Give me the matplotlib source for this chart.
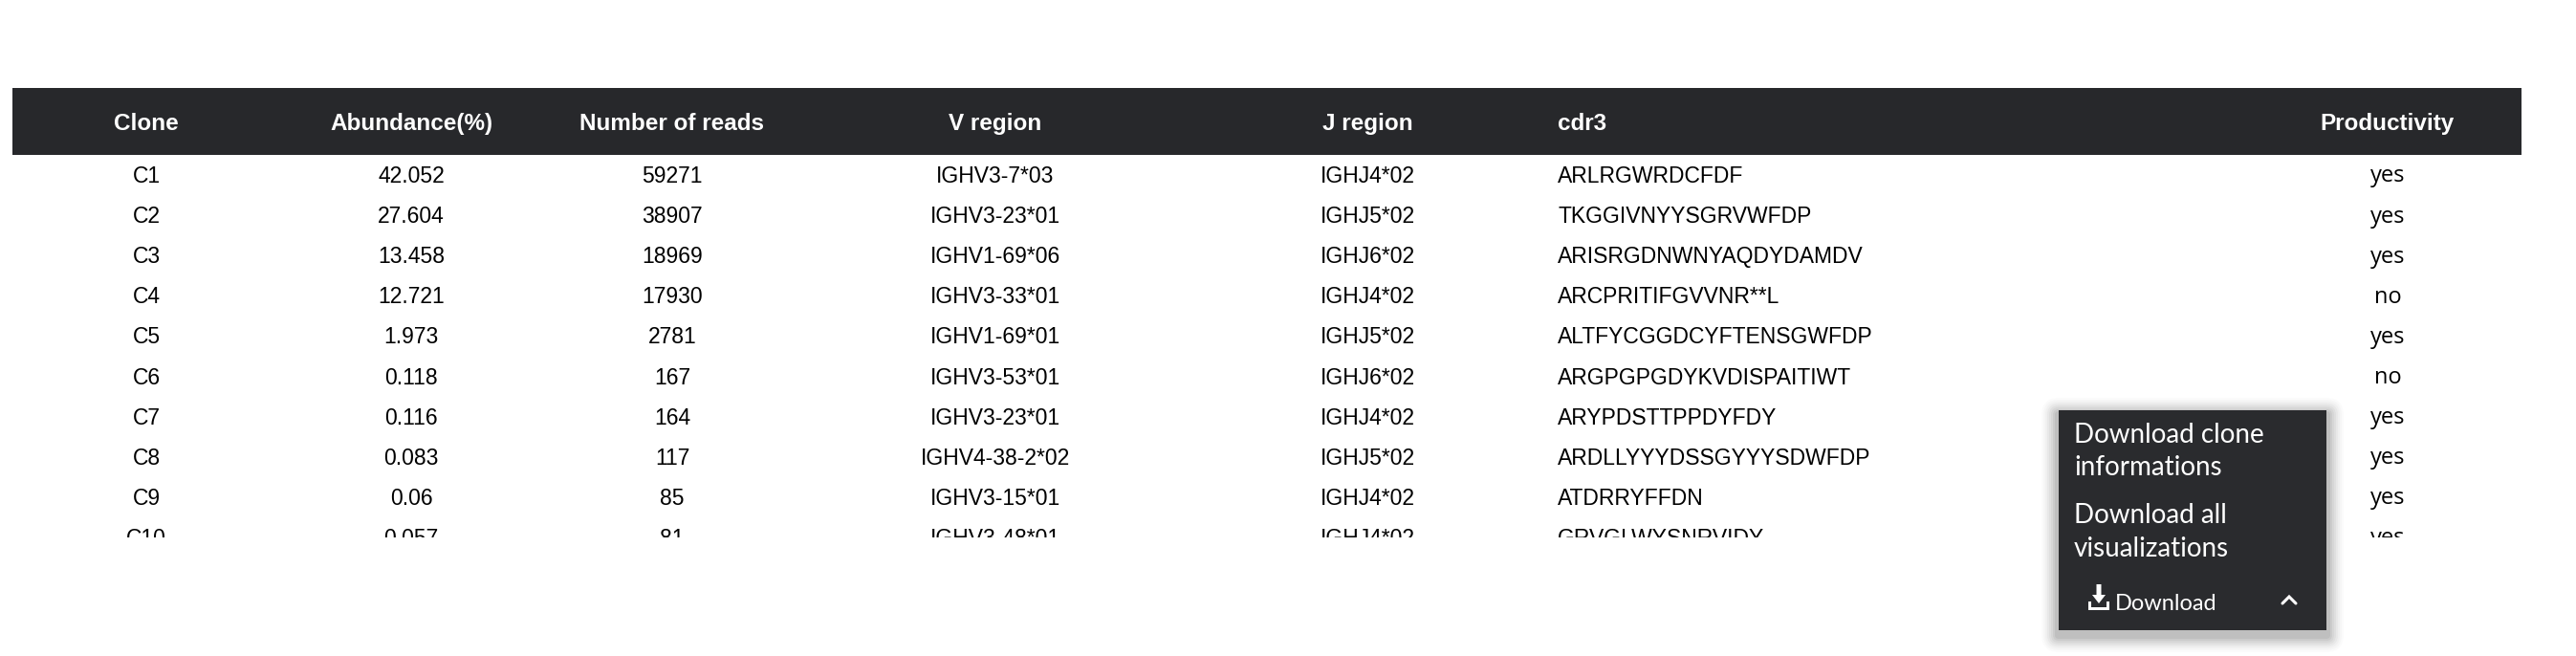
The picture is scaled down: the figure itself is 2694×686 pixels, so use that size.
import matplotlib
matplotlib.use("Agg")
import matplotlib.pyplot as plt
from matplotlib.patches import Rectangle, FancyBboxPatch, Polygon
from matplotlib.lines import Line2D

# ---------------- data ----------------
headers = ["Clone", "Abundance(%)", "Number of reads", "V region", "J region", "cdr3", "Productivity"]
clones = ["C1", "C2", "C3", "C4", "C5", "C6", "C7", "C8", "C9", "C10"]
abundance = ["42.052", "27.604", "13.458", "12.721", "1.973", "0.118", "0.116", "0.083", "0.06", "0.057"]
reads = [59271, 38907, 18969, 17930, 2781, 167, 164, 117, 85, 81]
v_region = ["IGHV3-7*03", "IGHV3-23*01", "IGHV1-69*06", "IGHV3-33*01", "IGHV1-69*01",
            "IGHV3-53*01", "IGHV3-23*01", "IGHV4-38-2*02", "IGHV3-15*01", "IGHV3-48*01"]
j_region = ["IGHJ4*02", "IGHJ5*02", "IGHJ6*02", "IGHJ4*02", "IGHJ5*02",
            "IGHJ6*02", "IGHJ4*02", "IGHJ5*02", "IGHJ4*02", "IGHJ4*02"]
cdr3 = ["ARLRGWRDCFDF", "TKGGIVNYYSGRVWFDP", "ARISRGDNWNYAQDYDAMDV", "ARCPRITIFGVVNR**L",
        "ALTFYCGGDCYFTENSGWFDP", "ARGPGPGDYKVDISPAITIWT", "ARYPDSTTPPDYFDY",
        "ARDLLYYYDSSGYYYSDWFDP", "ATDRRYFFDN", "GRVGLWYSNRVIDY"]
productivity = ["yes", "yes", "yes", "no", "yes", "no", "yes", "yes", "yes", "yes"]
menu_items = [["Download clone", "informations"], ["Download all", "visualizations"]]
button_label = "Download"

# ---------------- layout ----------------
W, H = 2694, 686
col_x = [153, 430, 703, 1041, 1430, 1629, 2497]
col_ha = ["center", "center", "center", "center", "center", "left", "center"]
header_top, header_bot = 92, 162
table_left, table_right = 13, 2637
row0, row_step = 184.5, 42.1
clip_bottom = 562
dark = "#27282b"

fig = plt.figure(figsize=(W / 100, H / 100), dpi=100)
fig.patch.set_facecolor("white")
ax = fig.add_axes([0, 0, 1, 1])
ax.set_xlim(0, W)
ax.set_ylim(H, 0)
ax.axis("off")

# header bar
ax.add_patch(Rectangle((table_left, header_top), table_right - table_left, header_bot - header_top,
                       facecolor=dark, edgecolor="none"))
hy = (header_top + header_bot) / 2
for x, ha, h in zip(col_x, col_ha, headers):
    ax.text(x, hy + 2.5, h, ha=ha, va="center", color="white", fontsize=17.5,
            fontweight="bold", family=["Liberation Sans", "DejaVu Sans"])

# body axes (clipped)
bax = fig.add_axes([table_left / W, 1 - clip_bottom / H, (table_right - table_left) / W,
                    (clip_bottom - header_bot) / H])
bax.set_xlim(table_left, table_right)
bax.set_ylim(clip_bottom, header_bot)
bax.axis("off")

columns = [clones, abundance, [str(r) for r in reads], v_region, j_region, cdr3]
for i in range(len(clones)):
    y = row0 + i * row_step
    for x, ha, col in zip(col_x[:6], col_ha[:6], columns):
        bax.text(x, y, col[i], ha=ha, va="center", color="black", fontsize=16.5,
                 family=["Liberation Sans", "DejaVu Sans"], clip_on=True)
    bax.text(col_x[6], y, productivity[i], ha="center", va="center", color="black",
             fontsize=17, family=["Open Sans", "DejaVu Sans"], clip_on=True)

# ---------------- popup menu ----------------
px0, py0, px1, py1 = 2153, 429, 2433, 659
for k, a in enumerate([0.015, 0.02, 0.025, 0.03, 0.035, 0.04, 0.05, 0.06]):
    g = 18 - 2 * k
    ax.add_patch(FancyBboxPatch((px0 - g, py0 - g + 5), (px1 - px0) + 2 * g, (py1 - py0) + 2 * g,
                                boxstyle="round,pad=0,rounding_size=%d" % max(g, 1),
                                facecolor="black", edgecolor="none", alpha=a))
ax.add_patch(Rectangle((px0, py0), px1 - px0, py1 - py0, facecolor="#2a2b2e", edgecolor="none"))

menu_y = [[463, 497], [547, 582]]
for ys, lines in zip(menu_y, menu_items):
    for y, txt in zip(ys, lines):
        ax.text(2169, y, txt, ha="left", va="baseline", color="white", fontsize=20,
                family=["Lato", "DejaVu Sans"])

# download icon
ix, iy = 2184, 637
ax.add_patch(Polygon([(ix, iy - 8), (ix + 3, iy - 8), (ix + 3, iy - 2), (ix + 19, iy - 2),
                      (ix + 19, iy - 8), (ix + 22, iy - 8), (ix + 22, iy + 1), (ix, iy + 1)],
                     closed=True, facecolor="white", edgecolor="none"))
ax.add_patch(Polygon([(ix + 8.5, iy - 26), (ix + 13.5, iy - 26), (ix + 13.5, iy - 15),
                      (ix + 18, iy - 15), (ix + 11, iy - 6), (ix + 4, iy - 15), (ix + 8.5, iy - 15)],
                     closed=True, facecolor="white", edgecolor="none"))
ax.text(2212, 638, button_label, ha="left", va="baseline", color="white", fontsize=17,
        family=["Lato", "DejaVu Sans"])
ax.add_line(Line2D([2387, 2394, 2401], [631, 624, 631], color="white", linewidth=2.2,
                   solid_capstyle="round", solid_joinstyle="miter"))

fig.savefig("out.png", dpi=100, facecolor="white")
